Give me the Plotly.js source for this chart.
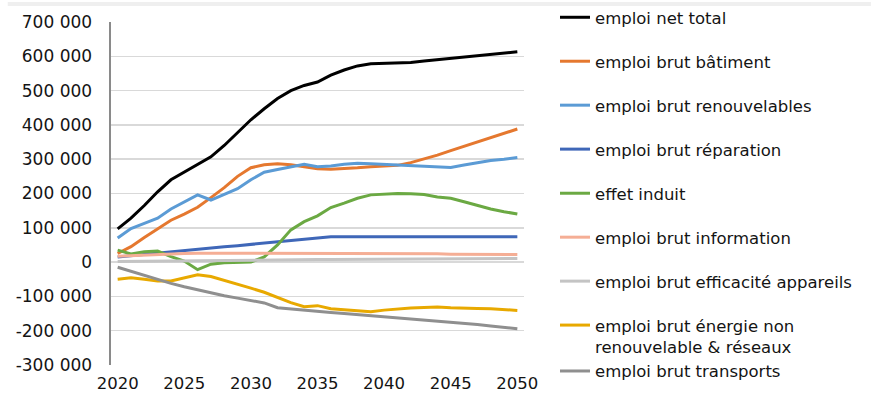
<!DOCTYPE html>
<html><head><meta charset="utf-8">
<script src="https://cdn.plot.ly/plotly-3.0.1.min.js"></script>
<style>html,body{margin:0;padding:0;background:#fff}#chart{width:875px;height:398px}</style>
</head><body><div id="chart"></div>
<script>
const years = [2020,2021,2022,2023,2024,2025,2026,2027,2028,2029,2030,2031,2032,2033,2034,2035,2036,2037,2038,2039,2040,2041,2042,2043,2044,2045,2046,2047,2048,2049,2050];
const xTickYears = [2020,2025,2030,2035,2040,2045,2050];
const xTickLabels = ['2020','2025','2030','2035','2040','2045','2050'];
const yTickValues = [-300000,-200000,-100000,0,100000,200000,300000,400000,500000,600000,700000];
const yTickLabels = ['-300 000','-200 000','-100 000','0','100 000','200 000','300 000','400 000','500 000','600 000','700 000'];

const netTotal = [97000,128000,165000,205000,240000,262000,285000,307000,340000,378000,415000,447000,477000,500000,515000,525000,545000,560000,572000,578000,579000,579000,582000,586000,590000,594000,597000,601000,604000,608000,613000];
const batiment = [25000,45000,72000,98000,122000,140000,160000,188000,217000,250000,275000,284000,287000,284000,278000,272000,271000,272000,275000,278000,280000,282000,290000,300000,312000,325000,338000,351000,364000,377000,388000];
const renouvelables = [70000,98000,113000,128000,155000,175000,196000,181000,198000,214000,240000,262000,270000,277000,285000,278000,280000,285000,288000,287000,285000,283000,281000,278000,277000,276000,283000,290000,296000,300000,305000];
const reparation = [15000,19000,22000,26000,30000,33000,37000,41000,45000,48000,52000,56000,59000,63000,67000,71000,74000,74000,74000,74000,74000,74000,74000,74000,74000,74000,74000,74000,74000,74000,74000];
const induit = [35000,24000,30000,32000,16000,3000,-22000,-6000,-2000,-1000,0,15000,50000,94000,118000,135000,159000,172000,186000,196000,198000,200000,199000,197000,190000,186000,176000,165000,155000,147000,140000];
const information = [17000,19000,21000,23000,24000,25000,26000,26000,26000,26000,26000,26000,26000,26000,26000,26000,25000,25000,25000,25000,25000,24000,24000,24000,24000,23000,23000,23000,22000,22000,22000];
const efficacite = [2000,2500,3000,3500,4000,4500,5000,5300,5600,5900,6200,6500,6800,7000,7200,7400,7600,7800,8000,8200,8400,8600,8800,9000,9200,9400,9600,9800,10000,10200,10400];
const energieNonRenouvelable = [-50000,-46000,-50000,-55000,-55000,-46000,-37000,-42000,-53000,-63000,-76000,-88000,-103000,-118000,-130000,-127000,-136000,-139000,-143000,-145000,-140000,-136000,-134000,-132000,-131000,-133000,-133000,-135000,-136000,-139000,-141000];
const transports = [-15000,-27000,-40000,-52000,-62000,-72000,-81000,-90000,-98000,-105000,-112000,-119000,-133000,-137000,-141000,-144000,-147000,-150000,-153000,-156000,-159000,-162000,-166000,-169000,-172000,-175000,-179000,-182000,-186000,-190000,-194000];

const seriesNames = ['emploi net total','emploi brut bâtiment','emploi brut renouvelables','emploi brut réparation','effet induit','emploi brut information','emploi brut efficacité appareils','emploi brut énergie non<br>renouvelable & réseaux','emploi brut transports'];
const seriesValues = [netTotal,batiment,renouvelables,reparation,induit,information,efficacite,energieNonRenouvelable,transports];
const seriesColors = ['#000000','#E5782F','#5B9BD5','#3F67B8','#6BA943','#F5AE95','#C4C4C4','#E8A900','#8F8F8F'];

const FONT = 'DejaVu Sans';
const TXT = '#141414';

const traces = seriesNames.map((name, i) => ({
  type: 'scatter', mode: 'lines',
  x: years, y: seriesValues[i], name: name,
  line: {color: seriesColors[i], width: 3},
  legend: i < 4 ? 'legend' : 'legend2',
  legendgroup: i >= 7 ? 'g7' : 'g' + i,
  hoverinfo: 'x+y+name'
}));

const boundaries = years.map(y => y - 0.5).concat([years[years.length - 1] + 0.5]);
const xRange = [years[0] - 0.5, years[years.length - 1] + 0.5];

const legendCommon = {
  xanchor: 'left', yanchor: 'top', tracegroupgap: 19.5, valign: 'top',
  bgcolor: 'rgba(0,0,0,0)', borderwidth: 0,
  font: {family: FONT, size: 16.5, color: TXT}
};

const layout = {
  width: 875, height: 398,
  margin: {l: 111, r: 351, t: 22, b: 33, pad: 0, autoexpand: false},
  paper_bgcolor: '#ffffff', plot_bgcolor: '#ffffff',
  font: {family: FONT, size: 16.5, color: TXT},
  showlegend: true,
  xaxis: {
    range: xRange, tickvals: xTickYears, ticktext: xTickLabels,
    showgrid: false, zeroline: false, showline: false, ticks: '',
    ticklabelstandoff: 6, tickfont: {family: FONT, size: 16.5, color: TXT}
  },
  xaxis2: {
    overlaying: 'x', anchor: 'free', position: 0.3, range: xRange,
    tickvals: boundaries, ticks: 'outside', ticklen: 5, tickwidth: 1.5, tickcolor: '#A6A6A6',
    showticklabels: false, showline: true, linecolor: '#8A8A8A', linewidth: 2.5,
    showgrid: false, zeroline: false
  },
  yaxis: {
    range: [-300000, 700000], tickvals: yTickValues, ticktext: yTickLabels,
    showgrid: true, gridcolor: '#D9D9D9', gridwidth: 1.5, zeroline: false,
    showline: true, linecolor: '#8A8A8A', linewidth: 2.5, ticks: '',
    ticklabelstandoff: 13, tickfont: {family: FONT, size: 17, color: TXT}
  },
  legend: Object.assign({x: 1.075, y: 1.064}, legendCommon),
  legend2: Object.assign({x: 1.075, y: 0.551}, legendCommon),
  shapes: [{
    type: 'rect', xref: 'paper', yref: 'paper', layer: 'below',
    x0: -0.25, x1: 1.84, y0: 1.0466, y1: 1.058,
    fillcolor: '#EFEFEF', line: {width: 0}
  }]
};

Plotly.newPlot('chart', traces, layout, {displayModeBar: false, staticPlot: true});
</script>
</body></html>
